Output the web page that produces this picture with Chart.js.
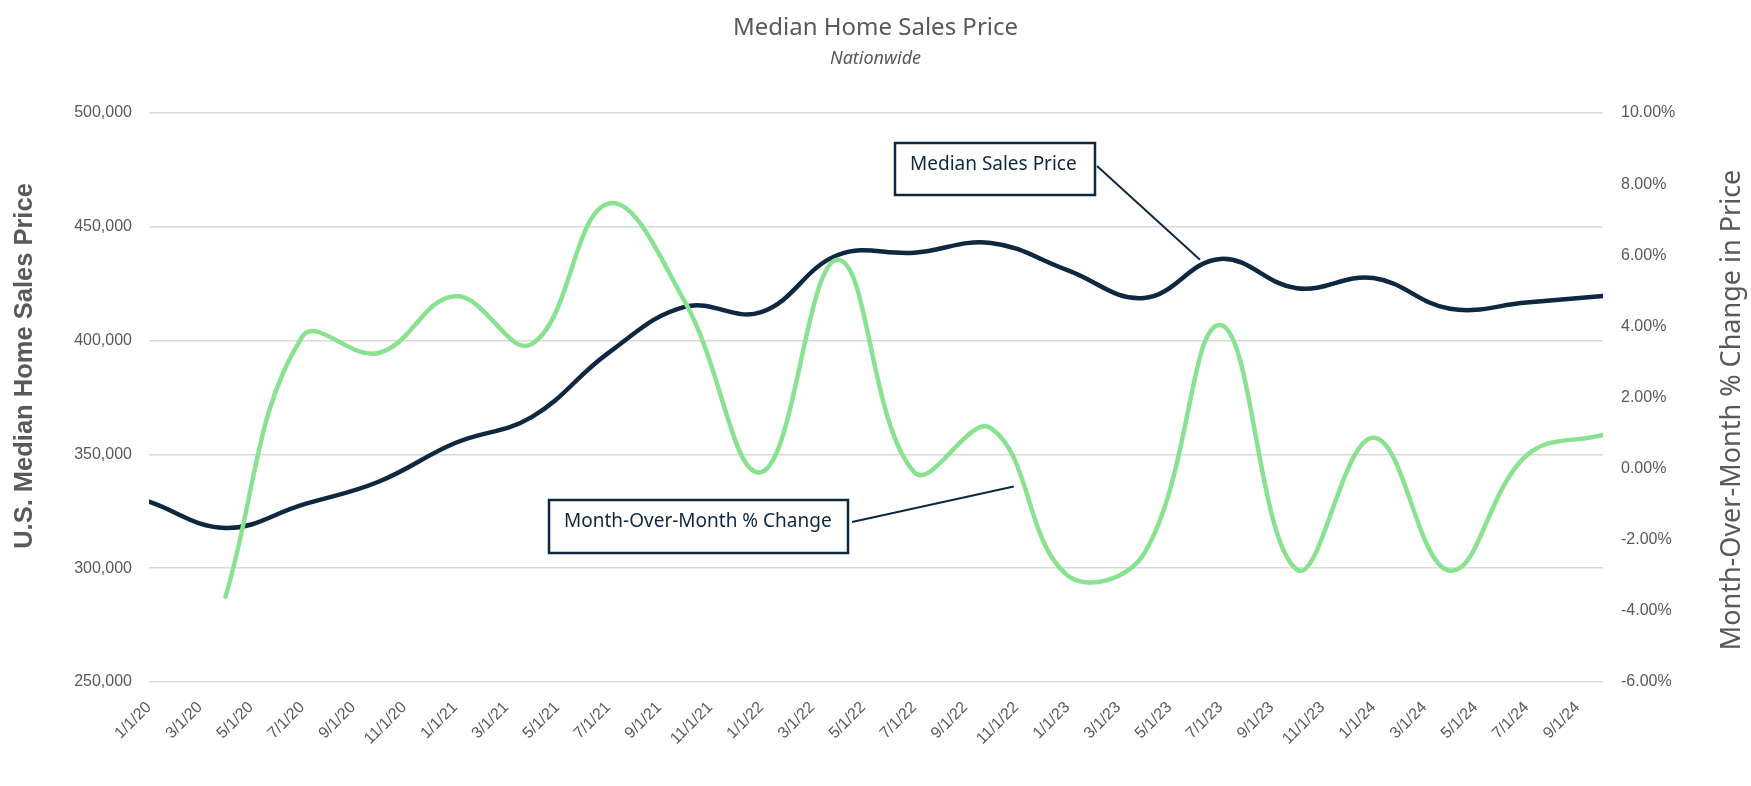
<!DOCTYPE html>
<html>
<head>
<meta charset="utf-8">
<script src="https://cdn.jsdelivr.net/npm/chart.js@4.4.1/dist/chart.umd.min.js"></script>
<style>
  body { margin: 0; background: #fff; }
  #wrap { width: 1751px; height: 786px; }
</style>
</head>
<body>
<div id="wrap"><canvas id="grafico"></canvas></div>
<script>
// Datos (trimestrales)
const fechas = ['1/1/20', '4/1/20', '7/1/20', '10/1/20', '1/1/21', '4/1/21', '7/1/21', '10/1/21',
  '1/1/22', '4/1/22', '7/1/22', '10/1/22', '1/1/23', '4/1/23', '7/1/23', '10/1/23',
  '1/1/24', '4/1/24', '7/1/24', '10/1/24'];
const precioMediano = [329200, 317700, 327800, 338000, 355000, 366400, 394500, 414800,
  412500, 437600, 438600, 442900, 431000, 418700, 435900, 423000,
  427500, 414000, 416700, 419600];
const cambioPct = [null, -3.6, 3.7, 3.25, 4.85, 3.5, 7.45, 4.7,
  -0.1, 5.87, -0.1, 1.14, -3.0, -2.4, 4.04, -2.84,
  0.87, -2.87, 0.37, 0.95];
const etiquetasX = ['1/1/20', '3/1/20', '5/1/20', '7/1/20', '9/1/20', '11/1/20',
  '1/1/21', '3/1/21', '5/1/21', '7/1/21', '9/1/21', '11/1/21',
  '1/1/22', '3/1/22', '5/1/22', '7/1/22', '9/1/22', '11/1/22',
  '1/1/23', '3/1/23', '5/1/23', '7/1/23', '9/1/23', '11/1/23',
  '1/1/24', '3/1/24', '5/1/24', '7/1/24', '9/1/24'];

const titulo = 'Median Home Sales Price';
const subtitulo = 'Nationwide';
const tituloIzq = 'U.S. Median Home Sales Price';
const tituloDer = 'Month-Over-Month % Change in Price';

const GRIS = '#595959';
const AZUL = '#0E2841';
const VERDE = '#89E28F';
const fuenteEjes = '"Liberation Sans", Arial, sans-serif';
const fuenteTexto = '"Noto Sans", sans-serif';

// mes desde enero 2020
function indiceMes(f) {
  const [m, d, a] = f.split('/').map(Number);
  return (a - 20) * 12 + (m - 1);
}

const puntosPrecio = fechas.map((f, i) => ({ x: indiceMes(f), y: precioMediano[i] }));
const puntosCambio = fechas.map((f, i) => ({ x: indiceMes(f), y: cambioPct[i] }))
  .filter(p => p.y !== null);
const ticksX = etiquetasX.map(indiceMes);

// Cuadros de texto con línea guía
const llamadas = [
  { texto: 'Median Sales Price', caja: [895, 143, 200, 52], desde: [1097, 166], eje: 'y', ancla: [41.2, 435500] },
  { texto: 'Month-Over-Month % Change', caja: [549, 500, 299, 53], desde: [852, 522], eje: 'y1', ancla: [33.9, -0.5] }
];

const decoracion = {
  id: 'decoracion',
  afterDraw(chart) {
    const { ctx, chartArea: a, scales } = chart;
    ctx.save();
    ctx.fillStyle = GRIS;
    ctx.textAlign = 'center';
    ctx.textBaseline = 'middle';
    ctx.font = '24px ' + fuenteTexto;
    ctx.fillText(titulo, chart.width / 2, 28);
    ctx.font = 'italic 18px ' + fuenteTexto;
    ctx.fillText(subtitulo, chart.width / 2, 59);

    // título eje izquierdo
    ctx.save();
    ctx.translate(25, 366);
    ctx.rotate(-Math.PI / 2);
    ctx.font = 'bold 25.5px ' + fuenteEjes;
    ctx.fillText(tituloIzq, 0, 0);
    ctx.restore();

    // título eje derecho (de abajo hacia arriba)
    ctx.save();
    ctx.translate(1732, 410);
    ctx.rotate(-Math.PI / 2);
    ctx.font = '27px ' + fuenteTexto;
    ctx.fillText(tituloDer, 0, 0);
    ctx.restore();

    // llamadas
    llamadas.forEach(l => {
      const [bx, by, bw, bh] = l.caja;
      const ax = scales.x.getPixelForValue(l.ancla[0]);
      const ay = scales[l.eje].getPixelForValue(l.ancla[1]);
      ctx.strokeStyle = AZUL;
      ctx.lineWidth = 2;
      ctx.beginPath();
      ctx.moveTo(l.desde[0], l.desde[1]);
      ctx.lineTo(ax, ay);
      ctx.stroke();
      ctx.fillStyle = '#fff';
      ctx.fillRect(bx, by, bw, bh);
      ctx.lineWidth = 2.5;
      ctx.strokeRect(bx, by, bw, bh);
      ctx.fillStyle = AZUL;
      ctx.textAlign = 'left';
      ctx.font = '19px ' + fuenteTexto;
      ctx.fillText(l.texto, bx + 15, by + 22);
    });
    ctx.restore();
  }
};

const ctx = document.getElementById('grafico').getContext('2d');
const grafico = new Chart(ctx, {
  type: 'line',
  data: {
    datasets: [
      {
        label: 'Month-Over-Month % Change',
        data: puntosCambio,
        yAxisID: 'y1',
        borderColor: VERDE,
        borderWidth: 4.5,
        borderCapStyle: 'round',
        pointRadius: 0,
        tension: 0.4,
        order: 0
      },
      {
        label: 'Median Sales Price',
        data: puntosPrecio,
        yAxisID: 'y',
        borderColor: AZUL,
        borderWidth: 4.5,
        borderCapStyle: 'round',
        pointRadius: 0,
        tension: 0.4,
        order: 1
      }
    ]
  },
  options: {
    responsive: true,
    maintainAspectRatio: false,
    devicePixelRatio: 1,
    animation: false,
    layout: { padding: { top: 113, left: 0, right: 0, bottom: 0 } },
    plugins: {
      legend: { display: false },
      tooltip: { enabled: false }
    },
    scales: {
      x: {
        type: 'linear',
        min: 0,
        max: 57,
        grid: { display: false },
        border: { display: false },
        afterBuildTicks: s => { s.ticks = ticksX.map(v => ({ value: v })); },
        afterFit: s => { s.height = 104; },
        ticks: {
          autoSkip: false,
          minRotation: 45,
          maxRotation: 45,
          padding: 8,
          color: GRIS,
          font: { family: fuenteEjes, size: 16 },
          callback: (v, i) => etiquetasX[i]
        }
      },
      y: {
        position: 'left',
        min: 250000,
        max: 500000,
        grid: { color: '#D9D9D9', lineWidth: 1.5, drawTicks: false },
        border: { display: false },
        afterFit: s => { s.width = 149; },
        ticks: {
          stepSize: 50000,
          padding: 17,
          color: GRIS,
          font: { family: fuenteEjes, size: 16 },
          callback: v => v.toLocaleString('en-US')
        }
      },
      y1: {
        position: 'right',
        min: -6,
        max: 10,
        grid: { drawOnChartArea: false, drawTicks: false },
        border: { display: false },
        afterFit: s => { s.width = 148; },
        ticks: {
          stepSize: 2,
          padding: 18,
          color: GRIS,
          font: { family: fuenteEjes, size: 16 },
          callback: v => v.toFixed(2) + '%'
        }
      }
    }
  },
  plugins: [decoracion]
});
</script>
</body>
</html>
